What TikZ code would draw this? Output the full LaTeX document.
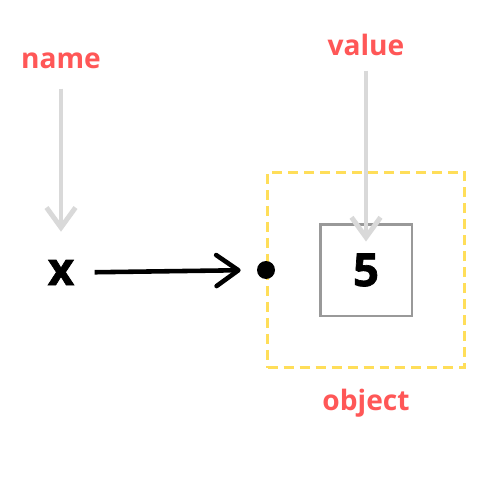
\documentclass[tikz,border=0pt]{standalone}
\usepackage{fontspec}
\setmainfont{Open Sans}
\newfontfamily\heavyfont{Open Sans Bold}[FakeBold=1.5]
\usetikzlibrary{arrows.meta,positioning}
\definecolor{labelred}{HTML}{FF5757}
\definecolor{arrowgray}{HTML}{D9D9D9}
\definecolor{boxgray}{HTML}{999999}
\definecolor{objyellow}{HTML}{FFDE59}

\begin{document}
\begin{tikzpicture}[x=0.02cm,y=-0.02cm,
	lbl/.style={text=labelred,font=\fontsize{16}{19}\selectfont\bfseries,inner sep=0pt},
	big/.style={font=\fontsize{26}{30}\selectfont\heavyfont,inner sep=0pt},
	pointer/.style={draw=arrowgray,line width=2.8pt,-{Straight Barb[length=0.4cm,width=0.58cm]}},
	ref/.style={line width=2.6pt,-{Straight Barb[length=0.44cm,width=0.62cm,round]}}]
		\useasboundingbox[fill=white] (0,0) rectangle (500,500);
		% the object and its value
		\node[draw=objyellow,line width=1.7pt,dash pattern=on 0.2cm off 0.12cm,minimum width=3.94cm,minimum height=3.92cm] (obj) at (366,270) {};
		\node[draw=boxgray,line width=1.7pt,minimum size=1.84cm,inner sep=0pt,big] (val) at (366,270) {5};
		\node[lbl,anchor=base] (object) at (366,410) {object};
		% the name
		\node[big,anchor=base] (var) at (61,285) {x};
		\node[circle,fill,inner sep=0pt,minimum size=0.36cm] (dot) at (266,270) {};
		\draw[ref,shorten <=0.4cm,shorten >=0.32cm] (var.east) -- (dot.west);
		% labels
		\node[lbl,anchor=base] (name) at (61,69) {name};
		\node[lbl,anchor=base] (value) at (366,56) {value};
		\draw[pointer,shorten <=0.38cm,shorten >=0.56cm] (name.south) -- (name.south |- var.north);
		\draw[pointer,shorten <=0.28cm,shorten >=-0.38cm] (value.south) -- (val.north);
		\end{tikzpicture}
\end{document}
